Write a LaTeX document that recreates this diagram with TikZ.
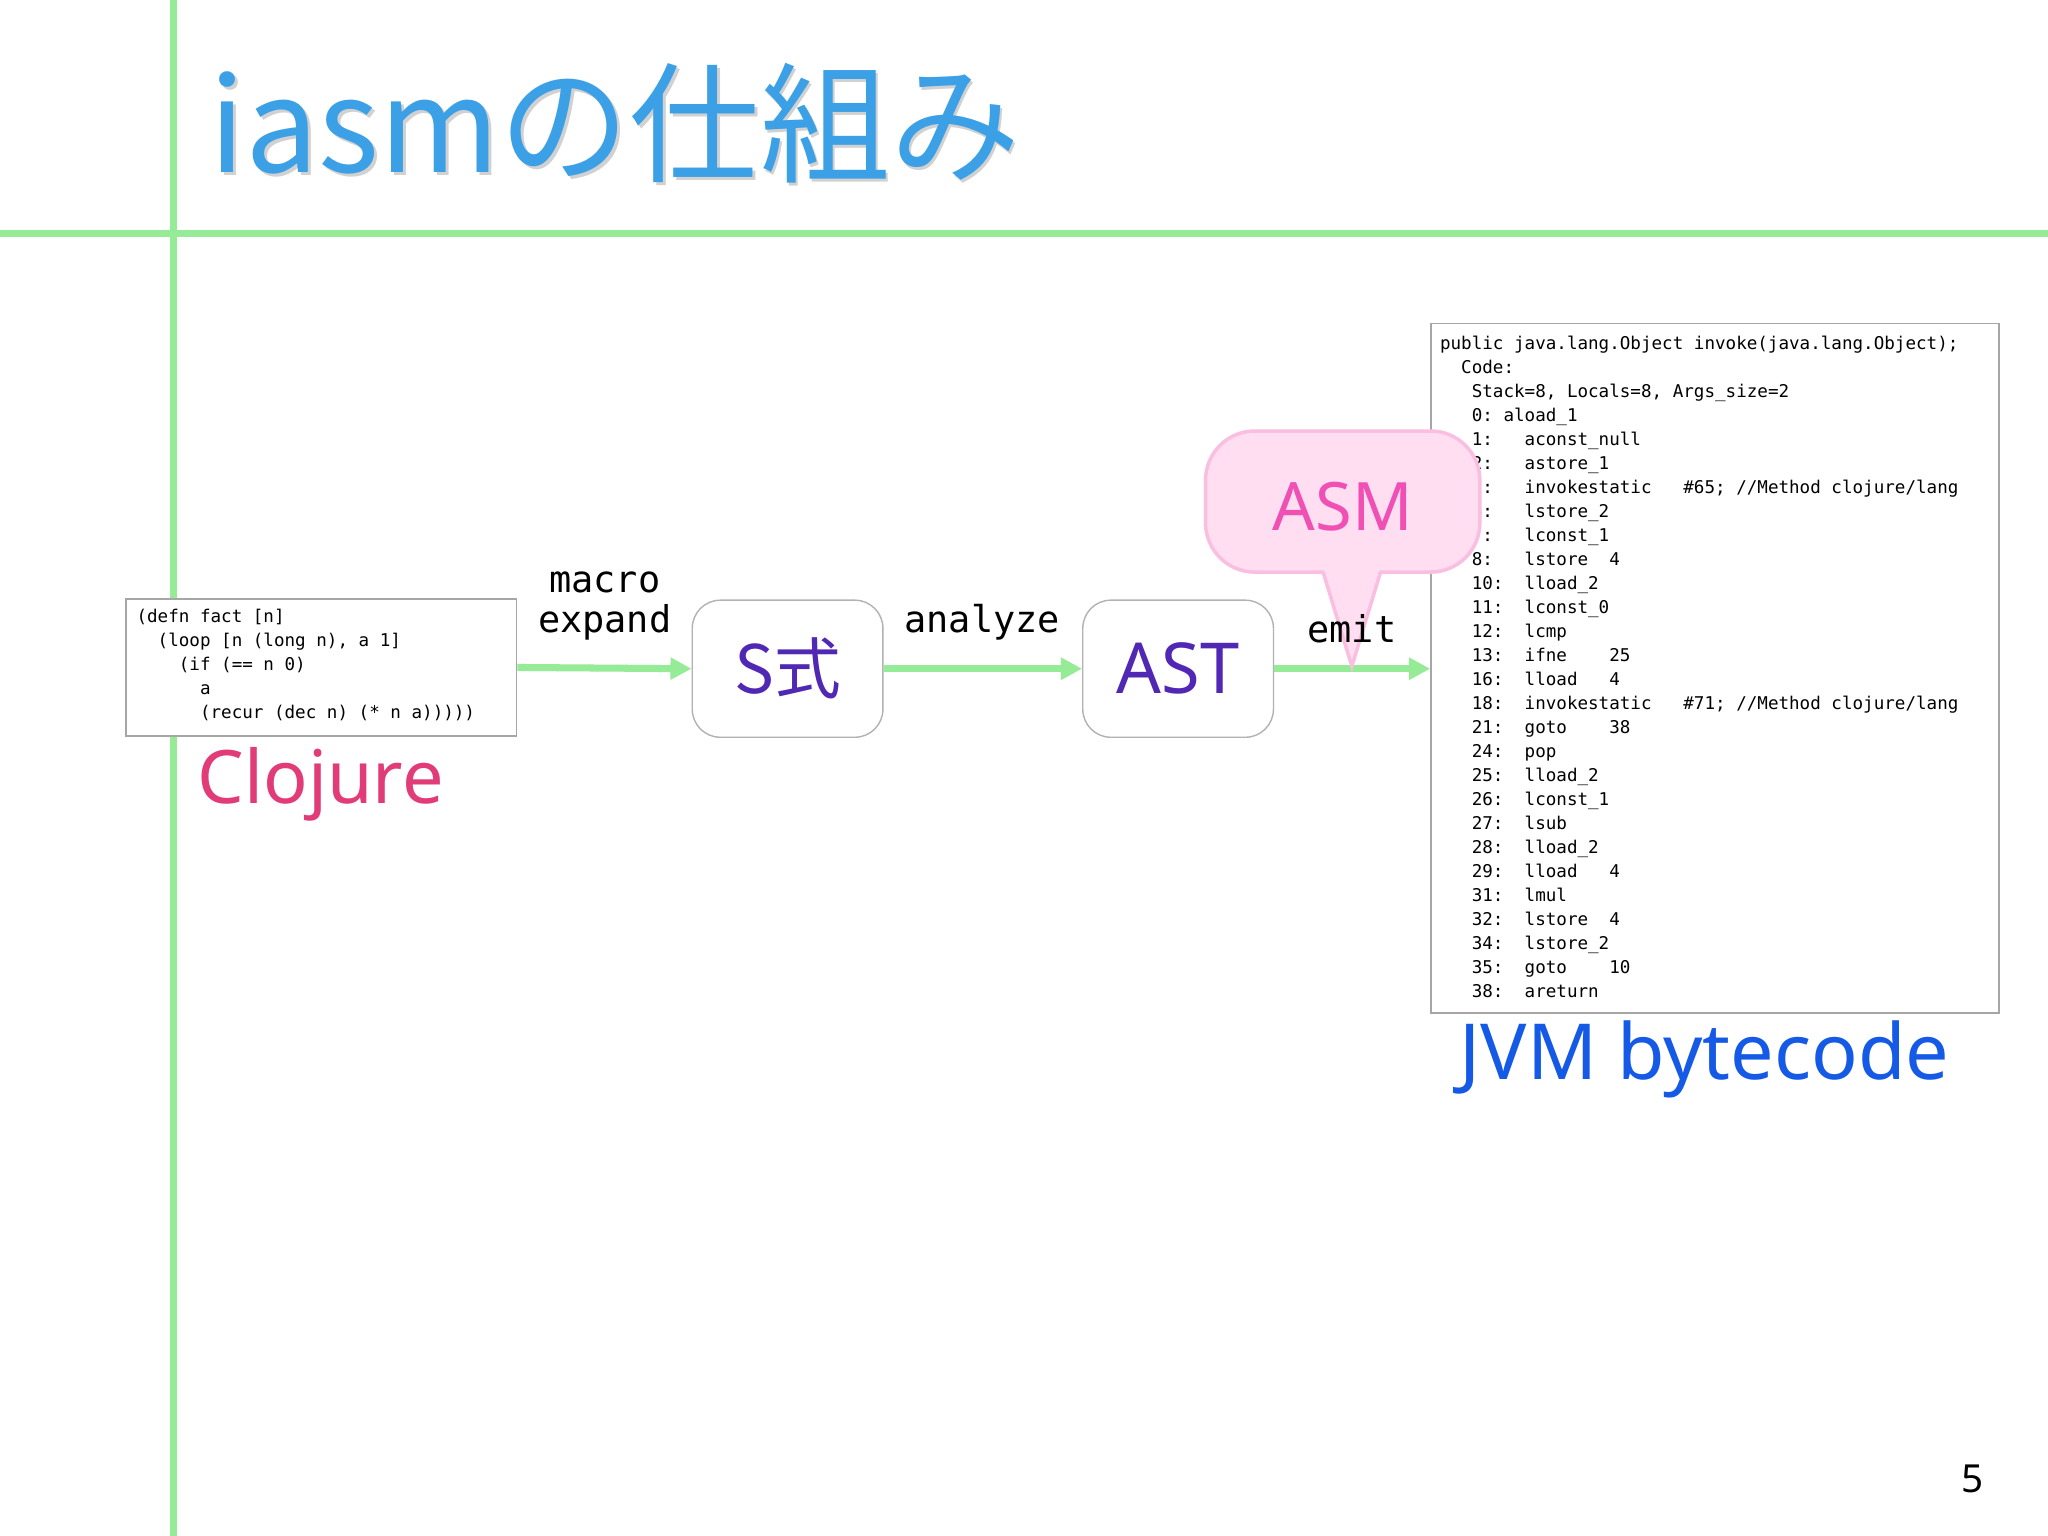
\documentclass[tikz,border=0pt]{standalone}
\usepackage{fontspec}
\setmainfont{Noto Sans}
\newfontfamily\cjk{Noto Sans CJK JP}
\newfontfamily\mono{DejaVu Sans Mono}
\usetikzlibrary{arrows.meta,positioning,shapes.geometric}
\definecolor{rule}{RGB}{150,235,150}
\definecolor{ttl}{RGB}{60,160,230}
\definecolor{clj}{RGB}{225,60,120}
\definecolor{jvm}{RGB}{20,90,230}
\definecolor{stx}{RGB}{80,40,180}
\definecolor{asmfill}{RGB}{255,222,242}
\definecolor{asmline}{RGB}{250,190,225}
\definecolor{asmtxt}{RGB}{240,80,180}
\tikzset{
  codebox/.style={draw=black!35, fill=white, inner sep=0pt, anchor=north west},
  codetxt/.style={anchor=north west, inner sep=0pt, align=left,
    font=\mono\fontsize{5pt}{6.83pt}\selectfont},
  stage/.style={draw=black!30, rounded corners=8pt, fill=white, inner sep=0pt,
    minimum width=1.907cm, minimum height=1.371cm, text=stx},
  flow/.style={draw=rule, line width=2pt, -{Triangle[length=6pt,width=6pt]}},
  lbl/.style={font=\mono\fontsize{10.5}{11.5}\selectfont, align=center, anchor=south}
}
\begin{document}
\begin{tikzpicture}[x=0.01306cm,y=-0.01306cm]
\useasboundingbox (0,0) rectangle (1568,1176);
\fill[white] (0,0) rectangle (1568,1176);
% rules
\draw[rule, line width=2pt] (133,0) -- (133,1176);
\draw[rule, line width=2pt] (0,179) -- (1568,179);
% title
\node[anchor=south west, inner sep=0pt, text=black!18, font=\cjk\fontsize{37}{40}\selectfont] at (162,143) {iasmの仕組み};
\node[anchor=south west, inner sep=0pt, text=ttl, font=\cjk\fontsize{37}{40}\selectfont] (title) at (160,141) {iasmの仕組み};
% clojure code
\node[codebox, minimum width=3.905cm, minimum height=1.371cm] (src) at (96,458) {};
\node[codetxt] (srctxt) at (104,466)
{(defn fact [n]\\
~~(loop [n (long n), a 1]\\
~~~~(if (== n 0)\\
~~~~~~a\\
~~~~~~(recur (dec n) (* n a)))))};
\node[anchor=north west, inner sep=0pt, text=clj, font=\fontsize{21}{23}\selectfont] (clojure) at (151,572) {Clojure};
% stages
\node[stage, font=\cjk\fontsize{19}{21}\selectfont] (sx) at (603,512) {S式};
\node[stage, font=\fontsize{20}{22}\selectfont] (ast) at (902,512) {AST};
% bytecode box
\node[codebox, minimum width=5.681cm, minimum height=6.896cm] (bcbox) at (1095,247) {};
\node[codetxt] (bc) at (1102,257)
{public java.lang.Object invoke(java.lang.Object);\\
~~Code:\\
~~~Stack=8, Locals=8, Args\_size=2\\
~~~0:~aload\_1\\
~~~1:~~~aconst\_null\\
~~~2:~~~astore\_1\\
~~~3:~~~invokestatic~~~\#65; //Method clojure/lang\\
~~~6:~~~lstore\_2\\
~~~7:~~~lconst\_1\\
~~~8:~~~lstore~~4\\
~~~10:~~lload\_2\\
~~~11:~~lconst\_0\\
~~~12:~~lcmp\\
~~~13:~~ifne~~~~25\\
~~~16:~~lload~~~4\\
~~~18:~~invokestatic~~~\#71; //Method clojure/lang\\
~~~21:~~goto~~~~38\\
~~~24:~~pop\\
~~~25:~~lload\_2\\
~~~26:~~lconst\_1\\
~~~27:~~lsub\\
~~~28:~~lload\_2\\
~~~29:~~lload~~~4\\
~~~31:~~lmul\\
~~~32:~~lstore~~4\\
~~~34:~~lstore\_2\\
~~~35:~~goto~~~~10\\
~~~38:~~areturn};
\node[anchor=north west, inner sep=0pt, text=jvm, font=\fontsize{22}{24}\selectfont] (jvm) at (1117,781) {JVM bytecode};
% arrows
\draw[flow] (src.east) -- (sx.west);
\draw[flow] (sx.east) -- (ast.west);
\draw[flow] (ast.east) -- (ast.east -| bcbox.west);
\node[lbl] (l1) at (463,500) {macro\\expand};
\node[lbl] (l2) at (752,500) {analyze};
% ASM callout
\draw[asmline, fill=asmfill, line width=1pt, rounded corners=14pt] (923,330) rectangle (1133,438);
\fill[asmfill] (1013,434) -- (1035,510) -- (1057,434) -- cycle;
\draw[asmline, line width=1pt] (1013,438) -- (1035,510) -- (1057,438);
\node[text=asmtxt, font=\fontsize{19}{21}\selectfont] (asm) at (1028,388) {ASM};
\node[lbl] (l3) at (1035,502) {emit};
\node[font=\fontsize{11}{13}\selectfont] (pg) at (1510,1132) {5};
\end{tikzpicture}
\end{document}
